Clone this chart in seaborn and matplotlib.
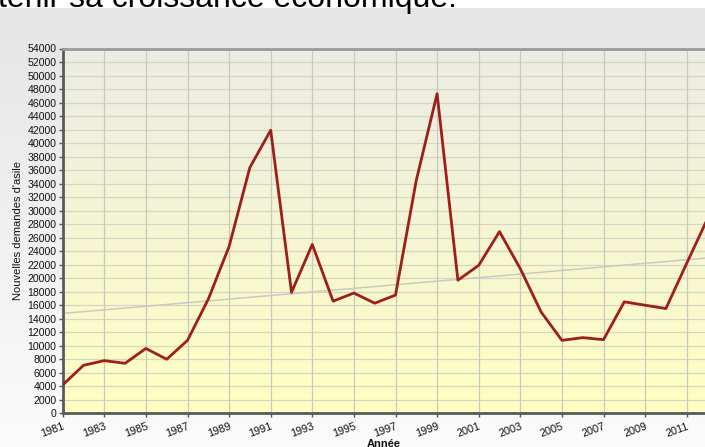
import numpy as np
import pandas as pd
import matplotlib
matplotlib.use("Agg")
import matplotlib.pyplot as plt
import seaborn as sns

# ---- data ----
years = list(range(1981, 2013))
demandes = [4200, 7100, 7800, 7400, 9600, 8000, 10800, 16900, 24700, 36400,
            41900, 17900, 25000, 16600, 17800, 16300, 17500, 34500, 47300, 19700,
            21900, 26900, 21400, 15000, 10800, 11200, 10900, 16500, 16000, 15500,
            22200, 28800]
x_ticks = list(range(1981, 2012, 2))
y_ticks = list(range(0, 54001, 2000))
title_text = "tenir sa croissance économique."
y_label = "Nouvelles demandes d'asile"
x_label = "Année"

df = pd.DataFrame({"Année": years, "Demandes": demandes})
coef = np.polyfit(df["Année"], df["Demandes"], 1)
df["Tendance"] = np.polyval(coef, df["Année"])

sns.set_theme(style="white")
plt.rcParams["font.family"] = ["Liberation Sans", "DejaVu Sans"]

W, H = 705, 447
fig = plt.figure(figsize=(W / 100, H / 100), dpi=100)

# ---- outer background gradient ----
bg = fig.add_axes([0, 0, 1, 1], zorder=-10)
rows = np.zeros((H, 1, 3))
for r in range(H):
    if r < 8:
        rows[r, 0] = (1, 1, 1)
    else:
        t = (r - 8) / (H - 8)
        v = 0.90 + (0.985 - 0.90) * t
        rows[r, 0] = (v, v, v)
bg.imshow(rows, aspect="auto", extent=[0, 1, 0, 1], interpolation="bilinear")
bg.axis("off")

# ---- main axes ----
left = 62.7 / W
bottom = (H - 413.3) / H
top = (H - 48.5) / H
ax = fig.add_axes([left, bottom, 1 - left, top - bottom])
xmin, xmax = 1981, 1981 + (W - 62.7) / 20.8
ymin, ymax = 0, 54000

# plot-area gradient
n = 256
grad = np.zeros((n, 1, 3))
for i in range(n):
    t = i / (n - 1)  # 0 top -> 1 bottom
    grad[i, 0] = (0.925 + 0.075 * t, 0.925 + 0.075 * t, 0.90 - 0.14 * t)
ax.imshow(grad, aspect="auto", extent=[xmin, xmax, ymin, ymax],
          interpolation="bilinear", zorder=0)

ax.set_xlim(xmin, xmax)
ax.set_ylim(ymin, ymax)
ax.set_yticks(y_ticks)
ax.set_xticks(x_ticks)
for yv in y_ticks:
    ax.axhline(yv, color="#d6d6c4", lw=0.9, zorder=1)
for xv in x_ticks:
    ax.axvline(xv, color="#c9c9bd", lw=0.9, zorder=1)

sns.lineplot(data=df, x="Année", y="Tendance", ax=ax, color="#cacac2",
             lw=1.1, zorder=2)
sns.lineplot(data=df, x="Année", y="Demandes", ax=ax, color="#9e1f1a",
             lw=2.0, zorder=3)

ax.set_xlabel("")
ax.set_ylabel("")
ax.tick_params(axis="y", which="both", left=True, length=3, width=1,
               color="#555555", pad=1.5, labelsize=7.6, labelcolor="#111111")
ax.tick_params(axis="x", which="both", bottom=True, length=3, width=1,
               color="#555555", pad=3, labelsize=7.8, labelcolor="#111111")
ax.set_xticklabels([str(v) for v in x_ticks], rotation=20, ha="right",
                   va="top", rotation_mode="anchor")

for s in ["left", "bottom"]:
    ax.spines[s].set_color("#5a5a5a")
    ax.spines[s].set_linewidth(2)
ax.spines["top"].set_color("#9a9a9a")
ax.spines["top"].set_linewidth(2)
ax.spines["right"].set_visible(False)

fig.text(18 / W, 1 - 231 / H, y_label, rotation=90, ha="center",
         va="center", fontsize=8, color="#111111")
fig.text(384 / W, 1 - 439 / H, x_label, ha="center", va="top",
         fontsize=8, fontweight="bold", color="#111111")
fig.text(-2 / W, 1 - 7 / H, title_text, ha="left", va="baseline",
         fontsize=23, color="#000000")

fig.savefig("out.png", dpi=100)
